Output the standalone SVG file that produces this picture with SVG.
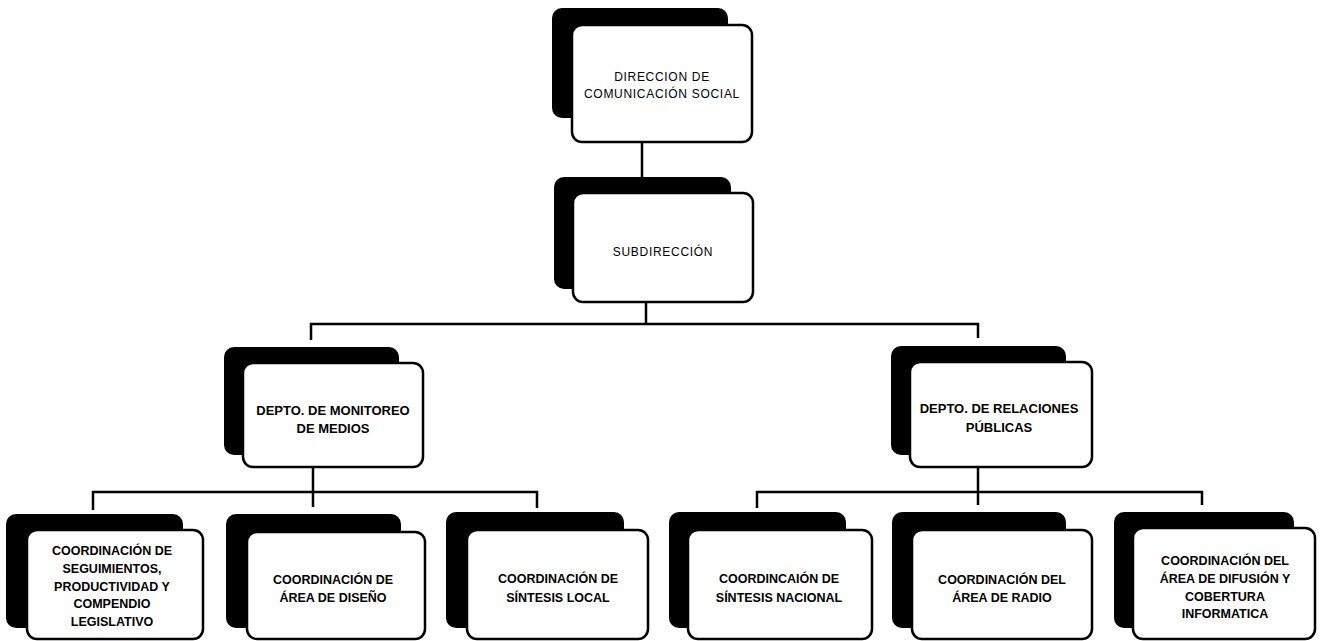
<svg xmlns="http://www.w3.org/2000/svg" width="1324" height="641" viewBox="0 0 1324 641">
<style>
.sh{fill:#000;stroke:#000;stroke-width:2}
.fr{fill:#fff;stroke:#000;stroke-width:2.5}
.t{font-family:"Liberation Sans",Arial,sans-serif;font-size:12.5px;font-weight:bold;fill:#000;text-anchor:middle}
.td{font-family:"Liberation Sans",Arial,sans-serif;font-size:13px;font-weight:bold;fill:#000;text-anchor:middle}
.tl{font-family:"Liberation Sans",Arial,sans-serif;font-size:12px;fill:#000;text-anchor:middle;letter-spacing:0.7px}
.c{fill:none;stroke:#000;stroke-width:2.5}
</style>
<rect width="1324" height="641" fill="#fff"/>
<g id="connectors">
<path class="c" d="M642 142V193"/>
<path class="c" d="M646 302V324"/>
<path class="c" d="M311 340V324H978V338"/>
<path class="c" d="M313 467V507"/>
<path class="c" d="M93 510V492H537V508"/>
<path class="c" d="M978 467V505"/>
<path class="c" d="M757 508V492H1202V505"/>
</g>
<g id="n-direccion">
<rect class="sh" x="553" y="9" width="174" height="108" rx="9"/>
<rect class="fr" x="572" y="25" width="180" height="117" rx="10"/>
<text class="tl" x="662" y="81">DIRECCION DE</text>
<text class="tl" x="662" y="98">COMUNICACIÓN SOCIAL</text>
</g>
<g id="n-subdireccion">
<rect class="sh" x="555" y="178" width="175" height="110" rx="9"/>
<rect class="fr" x="573" y="193" width="180" height="109" rx="10"/>
<text class="tl" x="663" y="256">SUBDIRECCIÓN</text>
</g>
<g id="n-monitoreo">
<rect class="sh" x="225" y="348" width="173" height="106" rx="9"/>
<rect class="fr" x="243" y="363" width="180" height="104" rx="10"/>
<text class="td" x="333" y="415">DEPTO. DE MONITOREO</text>
<text class="td" x="333" y="433">DE MEDIOS</text>
</g>
<g id="n-relaciones">
<rect class="sh" x="892" y="347" width="173" height="107" rx="9"/>
<rect class="fr" x="910" y="362" width="182" height="105" rx="10"/>
<text class="td" x="999" y="413">DEPTO. DE RELACIONES</text>
<text class="td" x="999" y="432">PÚBLICAS</text>
</g>
<g id="n-seguimientos">
<rect class="sh" x="7" y="515" width="175" height="112" rx="9"/>
<rect class="fr" x="27" y="530" width="176" height="109" rx="10"/>
<text class="t" x="112" y="555">COORDINACIÓN DE</text>
<text class="t" x="112" y="573">SEGUIMIENTOS,</text>
<text class="t" x="112" y="591">PRODUCTIVIDAD Y</text>
<text class="t" x="112" y="608">COMPENDIO</text>
<text class="t" x="112" y="626">LEGISLATIVO</text>
</g>
<g id="n-diseno">
<rect class="sh" x="227" y="515" width="173" height="112" rx="9"/>
<rect class="fr" x="247" y="532" width="178" height="107" rx="10"/>
<text class="t" x="333" y="584">COORDINACIÓN DE</text>
<text class="t" x="333" y="602">ÁREA DE DISEÑO</text>
</g>
<g id="n-sintesis-local">
<rect class="sh" x="447" y="513" width="176" height="114" rx="9"/>
<rect class="fr" x="467" y="530" width="181" height="109" rx="10"/>
<text class="t" x="558" y="583">COORDINACIÓN DE</text>
<text class="t" x="558" y="602">SÍNTESIS LOCAL</text>
</g>
<g id="n-sintesis-nacional">
<rect class="sh" x="670" y="513" width="175" height="114" rx="9"/>
<rect class="fr" x="688" y="530" width="184" height="109" rx="10"/>
<text class="t" x="779" y="583">COORDINCAIÓN DE</text>
<text class="t" x="779" y="602">SÍNTESIS NACIONAL</text>
</g>
<g id="n-radio">
<rect class="sh" x="893" y="513" width="172" height="114" rx="9"/>
<rect class="fr" x="912" y="530" width="180" height="109" rx="10"/>
<text class="t" x="1002" y="584">COORDINACIÓN DEL</text>
<text class="t" x="1002" y="602">ÁREA DE RADIO</text>
</g>
<g id="n-difusion">
<rect class="sh" x="1115" y="513" width="178" height="114" rx="9"/>
<rect class="fr" x="1133" y="528" width="182" height="111" rx="10"/>
<text class="t" x="1225" y="565">COORDINACIÓN DEL</text>
<text class="t" x="1225" y="583">ÁREA DE DIFUSIÓN Y</text>
<text class="t" x="1225" y="601">COBERTURA</text>
<text class="t" x="1225" y="618">INFORMATICA</text>
</g>
</svg>
